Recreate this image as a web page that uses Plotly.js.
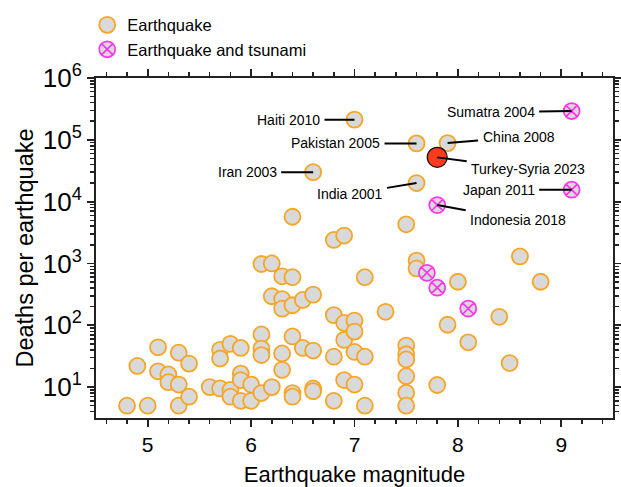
<!DOCTYPE html>
<html>
<head>
<meta charset="utf-8">
<script src="https://cdn.plot.ly/plotly-3.0.1.min.js"></script>
<style>html,body{margin:0;padding:0;background:#fff;}#chart{width:621px;height:487px;}</style>
</head>
<body>
<div id="chart"></div>
<script>
// ---- data ----
var quakeMag = [4.8, 5.0, 5.3, 4.9, 5.1, 5.1, 5.2, 5.2, 5.3, 5.4, 5.3, 5.4, 5.6, 5.7, 5.7, 5.7,
  5.8, 5.8, 5.8, 5.9, 5.9, 5.9, 5.9, 6.0, 6.0, 6.1, 6.1, 6.1, 6.1, 6.1, 6.2, 6.2, 6.2,
  6.3, 6.3, 6.3, 6.3, 6.3, 6.4, 6.4, 6.4, 6.4, 6.4, 6.4, 6.5, 6.5, 6.6, 6.6, 6.6, 6.6, 6.6,
  6.8, 6.8, 6.8, 6.8, 6.9, 6.9, 6.9, 6.9, 7.0, 7.0, 7.0, 7.0, 7.0, 7.1, 7.1, 7.1, 7.3,
  7.5, 7.5, 7.5, 7.5, 7.5, 7.5, 7.5, 7.6, 7.6, 7.6, 7.6, 7.8, 7.9, 7.9, 8.0, 8.1, 8.4, 8.5, 8.6, 8.8];
var quakeDeaths = [5, 5, 5, 22, 44, 18, 16, 12, 36, 24, 11, 7, 10, 40, 29, 9.5,
  50, 9, 7, 43, 16.5, 13, 6, 11, 6, 71, 42, 33, 8, 980, 1000, 295, 10,
  620, 265, 186, 35, 19, 600, 211, 66, 8, 7, 5700, 257, 43, 313, 39, 9.5, 8.6, 30000,
  146, 31, 6, 2400, 109, 58, 13, 2830, 119, 79, 37, 11, 212000, 600, 31, 5, 165,
  47, 34, 28, 15, 8.1, 5, 4300, 1110, 830, 87500, 20000, 10.8, 102, 88500, 506, 53, 137, 24.5, 1300, 506];

var tsunamiMag = [7.7, 7.8, 8.1, 7.8, 9.1, 9.1];
var tsunamiDeaths = [705, 405, 186, 8800, 292000, 15600];

var turkeyMag = [7.8];
var turkeyDeaths = [52000];

var labelText = ['Haiti 2010', 'Pakistan 2005', 'Iran 2003', 'India 2001', 'Sumatra 2004',
  'China 2008', 'Turkey-Syria 2023', 'Japan 2011', 'Indonesia 2018'];
var labelMag = [7.0, 7.6, 6.6, 7.6, 9.1, 7.9, 7.8, 9.1, 7.8];
var labelDeaths = [212000, 87500, 30000, 20000, 292000, 88500, 52000, 15600, 8800];

var yTickVals = [10, 100, 1000, 10000, 100000, 1000000];
var yTickText = ['10<sup>1</sup>', '10<sup>2</sup>', '10<sup>3</sup>', '10<sup>4</sup>', '10<sup>5</sup>', '10<sup>6</sup>'];

// ---- label placement (pixel offsets of label centre from point) ----
var labelOffsets = [[-66, 0], [-81, 0], [-66, 0], [-67, 11], [-81, 1],
  [71, -6], [91, 12], [-73, 0], [81, 15]];

var FONT = 'Liberation Sans, Arial, Helvetica, sans-serif';
var AX = '#222';

var traces = [
  {
    x: quakeMag, y: quakeDeaths, type: 'scatter', mode: 'markers', name: 'Earthquake',
    legendgroup: 'a',
    marker: {symbol: 'circle', size: 16, color: '#d9d9d9', line: {color: '#f8a523', width: 1.8}},
    hoverinfo: 'x+y'
  },
  {
    x: tsunamiMag, y: tsunamiDeaths, type: 'scatter', mode: 'markers', name: 'Earthquake and tsunami',
    legendgroup: 'b',
    marker: {symbol: 'circle-x', size: 16, color: '#d9d9d9', line: {color: '#ff33ee', width: 1.7}},
    hoverinfo: 'x+y'
  },
  {
    x: turkeyMag, y: turkeyDeaths, type: 'scatter', mode: 'markers', name: 'Turkey-Syria 2023',
    showlegend: false,
    marker: {symbol: 'circle', size: 20, color: '#ff3b1f', line: {color: '#111', width: 1.2}},
    hoverinfo: 'x+y'
  }
];

var annotations = labelText.map(function (t, i) {
  return {
    x: labelMag[i], y: Math.log10(labelDeaths[i]), xref: 'x', yref: 'y',
    text: t, showarrow: true, arrowhead: 0, arrowwidth: 2, arrowcolor: '#000',
    ax: labelOffsets[i][0], ay: labelOffsets[i][1], standoff: 0, borderpad: 4,
    font: {family: FONT, size: 14, color: '#000'}
  };
});

var layout = {
  width: 621, height: 487,
  margin: {l: 96, r: 8, t: 75, b: 69},
  paper_bgcolor: '#fff', plot_bgcolor: '#fff',
  font: {family: FONT, color: '#000'},
  showlegend: true,
  legend: {
    x: -0.017, y: 1.207, xanchor: 'left', yanchor: 'top',
    bgcolor: 'rgba(0,0,0,0)', tracegroupgap: 0,
    font: {family: FONT, size: 16.5, color: '#000'}
  },
  xaxis: {
    range: [4.5, 9.5], dtick: 1, tick0: 5,
    showgrid: false, zeroline: false,
    showline: true, linecolor: AX, linewidth: 2, mirror: 'ticks',
    ticks: 'outside', ticklen: 7, tickwidth: 1.8, tickcolor: AX,
    minor: {dtick: 0.2, ticks: 'outside', ticklen: 4, tickwidth: 1.5, tickcolor: AX, showgrid: false},
    tickfont: {family: FONT, size: 21, color: '#000'},
    title: {text: 'Earthquake magnitude', font: {family: FONT, size: 22, color: '#000'}, standoff: 11}
  },
  yaxis: {
    type: 'log', range: [0.5, 6],
    tickvals: yTickVals, ticktext: yTickText,
    showgrid: false, zeroline: false,
    showline: true, linecolor: AX, linewidth: 2, mirror: 'ticks',
    ticks: 'outside', ticklen: 7, tickwidth: 1.8, tickcolor: AX,
    minor: {dtick: 'D1', ticks: 'outside', ticklen: 4, tickwidth: 1.5, tickcolor: AX, showgrid: false},
    tickfont: {family: FONT, size: 26, color: '#000'},
    title: {text: 'Deaths per earthquake', font: {family: FONT, size: 23.5, color: '#000'}, standoff: 3}
  },
  annotations: annotations
};

Plotly.newPlot('chart', traces, layout, {displayModeBar: false, staticPlot: true});
</script>
</body>
</html>
